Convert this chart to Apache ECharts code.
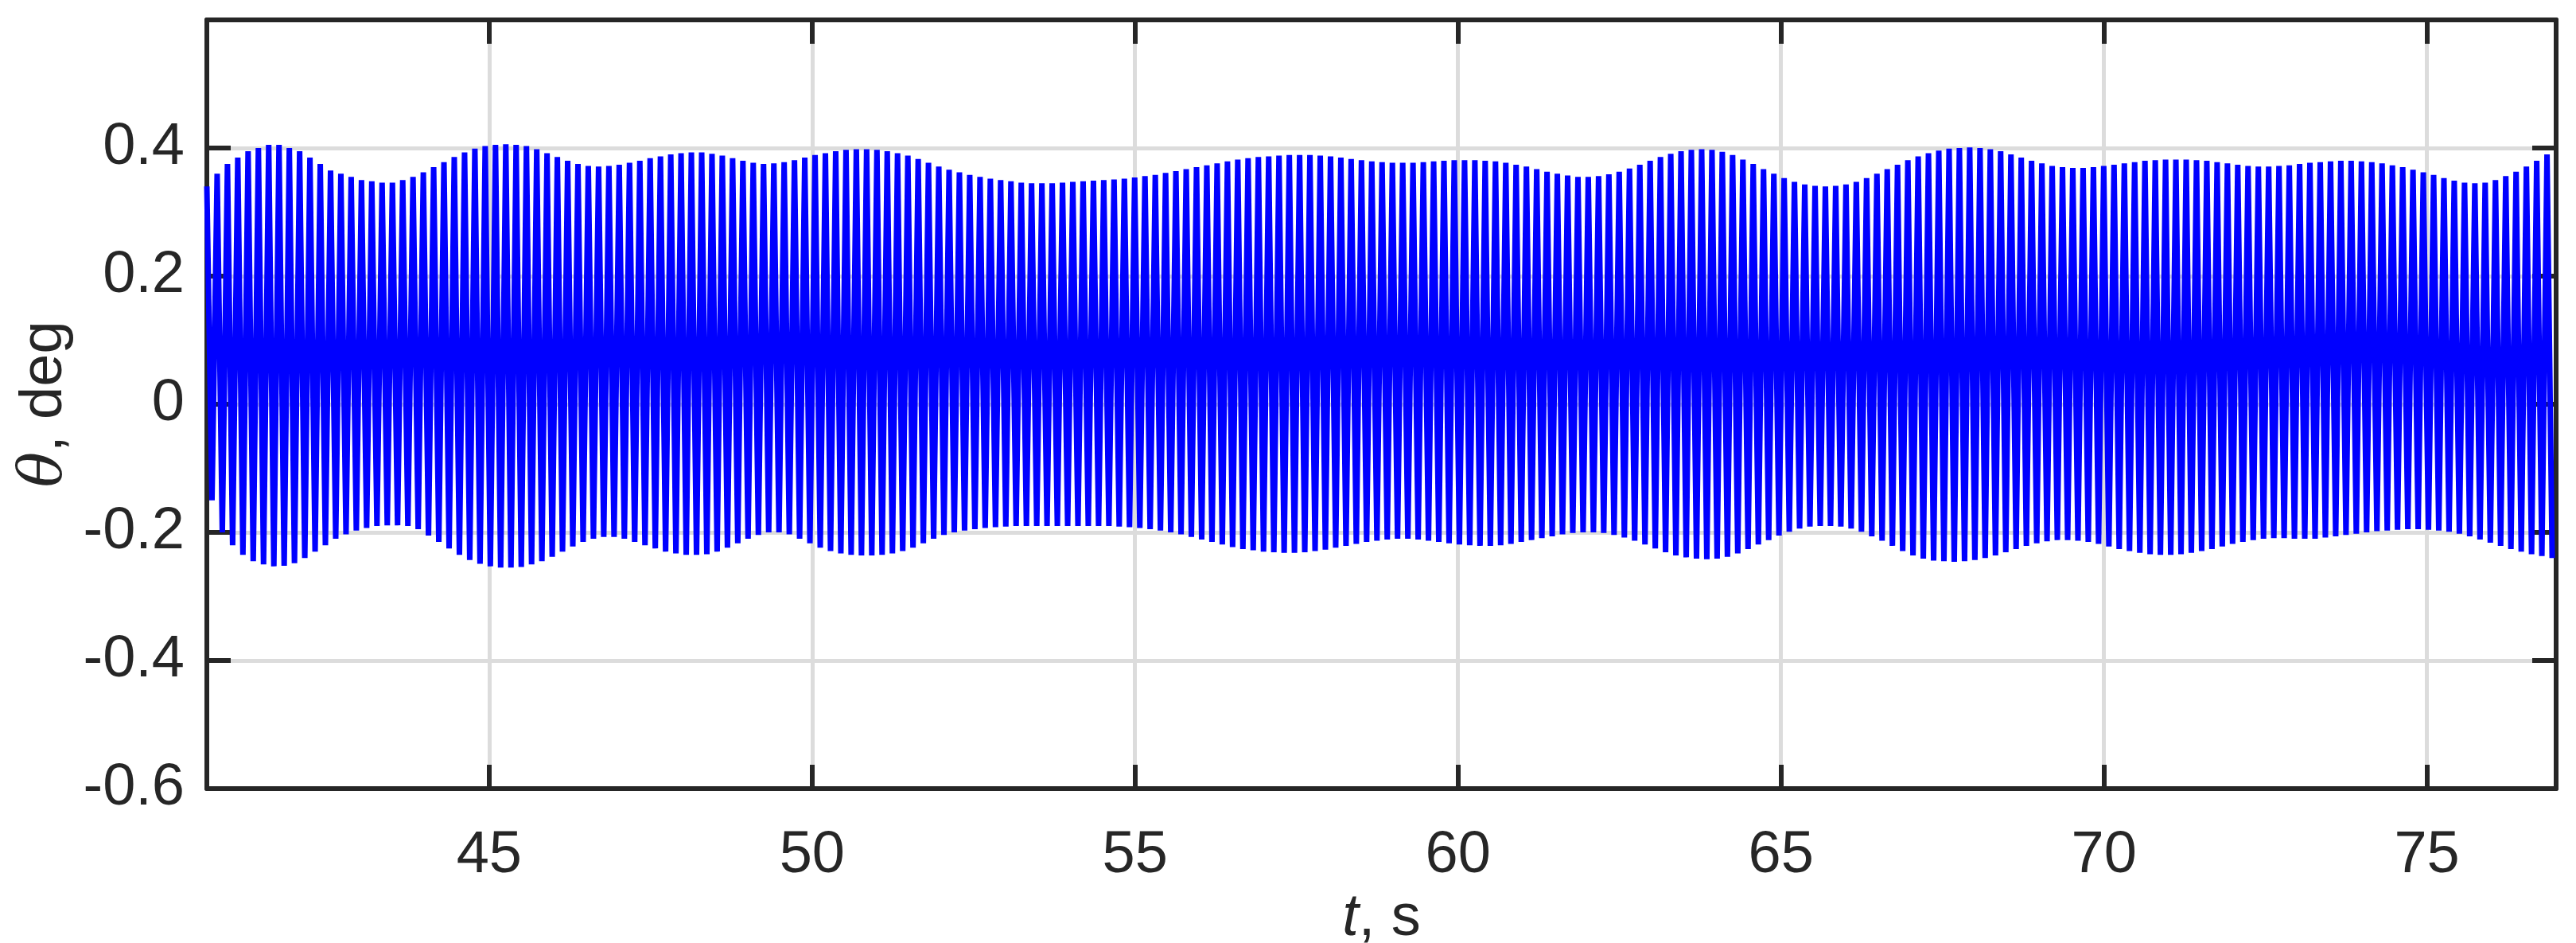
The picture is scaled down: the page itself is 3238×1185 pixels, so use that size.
<!DOCTYPE html>
<html><head><meta charset="utf-8">
<script src="https://cdn.jsdelivr.net/npm/echarts@6/dist/echarts.min.js"></script>
<style>html,body{margin:0;padding:0;background:#fff}#c{width:3238px;height:1185px}</style>
</head><body><div id="c"></div>
<script>
// time range (s) and oscillation period (s)
const tStart = 40.63, tEnd = 77.0, period = 0.1596;
const xTicks = [45, 50, 55, 60, 65, 70, 75];
const yTicks = [-0.6, -0.4, -0.2, 0, 0.2, 0.4];
// successive cycle peaks (deg)
const upperPeaks = [
.34,.36,.375,.385,.395,.40, .405,.405,.40,.395,.385,.375, .365,.36,.355,.35,.348,.346,
.346,.35,.355,.362,.37,.378, .386,.393,.399,.403,.405,.406, .405,.403,.398,.392,.386,.38,
.375,.372,.371,.372,.374,.377, .38,.384,.387,.39,.392,.393, .393,.391,.388,.384,.38,.377,
.375,.376,.378,.381,.385,.389, .392,.395,.397,.398,.398,.397, .395,.392,.388,.383,.377,.371,
.366,.362,.358,.355,.352,.35, .348,.346,.345,.345,.345,.346, .347,.348,.349,.35,.351,.352,
.354,.356,.358,.361,.364,.367, .37,.373,.376,.379,.382,.384, .386,.387,.388,.389,.389,.389,
.388,.387,.385,.383,.381,.379, .378,.377,.377,.377,.378,.379, .38,.381,.381,.381,.38,.379,
.377,.374,.371,.367,.363,.36, .357,.355,.355,.356,.359,.363, .368,.374,.38,.386,.391,.395,
.397,.398,.397,.394,.389,.382, .375,.367,.36,.353,.347,.343, .341,.34,.341,.343,.347,.353,
.36,.367,.374,.381,.387,.392, .396,.399,.40,.401,.40,.398, .395,.39,.385,.38,.376,.372,
.37,.369,.369,.37,.372,.374, .376,.378,.38,.381,.382,.382, .382,.381,.38,.378,.376,.374,
.372,.371,.371,.372,.373,.375, .377,.378,.379,.38,.38,.379, .378,.376,.373,.37,.366,.362,
.358,.353,.349,.346,.345,.346, .35,.356,.363,.371,.38,.39
];
// successive cycle troughs (deg)
const lowerPeaks = [
-.15,-.2,-.22,-.235,-.245,-.25, -.253,-.252,-.248,-.24,-.23,-.22, -.21,-.203,-.197,-.193,-.19,-.189,
-.189,-.19,-.195,-.205,-.215,-.225, -.235,-.243,-.249,-.253,-.255,-.255, -.254,-.25,-.245,-.238,-.23,-.222,
-.215,-.21,-.207,-.207,-.21,-.215, -.22,-.225,-.23,-.233,-.235,-.235, -.234,-.23,-.224,-.217,-.21,-.204,
-.2,-.2,-.203,-.21,-.217,-.224, -.229,-.233,-.235,-.236,-.236,-.235, -.233,-.229,-.224,-.217,-.21,-.204,
-.2,-.197,-.195,-.193,-.192,-.191, -.19,-.19,-.19,-.19,-.19,-.19, -.19,-.19,-.19,-.19,-.191,-.192,
-.193,-.195,-.197,-.2,-.203,-.207, -.211,-.215,-.219,-.223,-.226,-.228, -.23,-.231,-.232,-.232,-.231,-.229,
-.227,-.224,-.221,-.218,-.215,-.213, -.211,-.21,-.21,-.211,-.213,-.215, -.217,-.219,-.22,-.221,-.221,-.22,
-.218,-.215,-.212,-.209,-.206,-.203, -.201,-.2,-.2,-.201,-.204,-.208, -.213,-.219,-.225,-.231,-.236,-.239,
-.241,-.242,-.241,-.238,-.233,-.226, -.219,-.212,-.205,-.199,-.194,-.191, -.19,-.19,-.191,-.194,-.199,-.206,
-.213,-.221,-.229,-.236,-.241,-.244, -.245,-.246,-.245,-.243,-.24,-.236, -.231,-.226,-.221,-.217,-.214,-.212,
-.212,-.213,-.215,-.218,-.222,-.226, -.229,-.232,-.234,-.235,-.235,-.234, -.232,-.229,-.226,-.222,-.218,-.215,
-.212,-.21,-.209,-.209,-.21,-.21, -.21,-.208,-.206,-.204,-.202,-.2, -.198,-.197,-.196,-.195,-.195,-.196,
-.197,-.199,-.202,-.206,-.211,-.216, -.221,-.226,-.23,-.234,-.237,-.24
];
const data = [];
for (let i = 0; i < upperPeaks.length; i++) {
  const t = tStart + i * period;
  data.push([t, upperPeaks[i]]);
  data.push([t + period / 2, lowerPeaks[i]]);
}
const font = 'Liberation Sans';
const axisCol = '#262626';
const fs = 74;
const chart = echarts.init(document.getElementById('c'));
chart.setOption({
  animation: false,
  grid: { left: 260, right: 25, top: 25, bottom: 194, containLabel: false, outerBoundsMode: 'none' },
  xAxis: [{
    type: 'value', min: tStart, max: tEnd,
    name: '{i|t}, s', nameLocation: 'middle', nameGap: 97,
    nameTextStyle: { fontFamily: font, fontSize: fs, color: axisCol, rich: { i: { fontFamily: font, fontStyle: 'italic', fontSize: fs, color: axisCol } } },
    axisLine: { show: true, onZero: false, lineStyle: { color: axisCol, width: 6 } },
    axisTick: { show: true, inside: true, length: 30, customValues: xTicks, lineStyle: { color: axisCol, width: 6 } },
    axisLabel: { customValues: xTicks, fontFamily: font, fontSize: fs, color: axisCol, margin: 48 },
    splitLine: { show: true, lineStyle: { color: '#dcdcdc', width: 5 } }
  }, {
    type: 'value', min: tStart, max: tEnd, position: 'top',
    axisLine: { show: true, onZero: false, lineStyle: { color: axisCol, width: 6 } },
    axisTick: { show: true, inside: true, length: 30, customValues: xTicks, lineStyle: { color: axisCol, width: 6 } },
    axisLabel: { show: false }, splitLine: { show: false }
  }],
  yAxis: [{
    type: 'value', min: -0.6, max: 0.6, interval: 0.2,
    name: '{i|θ}, deg', nameLocation: 'middle', nameGap: 158,
    nameTextStyle: { fontFamily: font, fontSize: fs, color: axisCol, rich: { i: { fontFamily: 'DejaVu Serif', fontStyle: 'italic', fontSize: fs, color: axisCol } } },
    axisLine: { show: true, onZero: false, lineStyle: { color: axisCol, width: 6 } },
    axisTick: { show: true, inside: true, length: 30, lineStyle: { color: axisCol, width: 6 } },
    axisLabel: { fontFamily: font, fontSize: fs, color: axisCol, margin: 28,
      formatter: v => (yTicks.some(t => Math.abs(t - v) < 1e-9) ? (Math.round(v * 10) / 10).toString() : '') },
    splitLine: { show: true, lineStyle: { color: '#dcdcdc', width: 5 } }
  }, {
    type: 'value', min: -0.6, max: 0.6, interval: 0.2, position: 'right',
    axisLine: { show: true, onZero: false, lineStyle: { color: axisCol, width: 6 } },
    axisTick: { show: true, inside: true, length: 30, lineStyle: { color: axisCol, width: 6 } },
    axisLabel: { show: false }, splitLine: { show: false }
  }],
  series: [{
    type: 'line', data: data, showSymbol: false, symbol: 'none',
    lineStyle: { color: '#0000ff', width: 7 }, clip: true
  }]
});
</script></body></html>
